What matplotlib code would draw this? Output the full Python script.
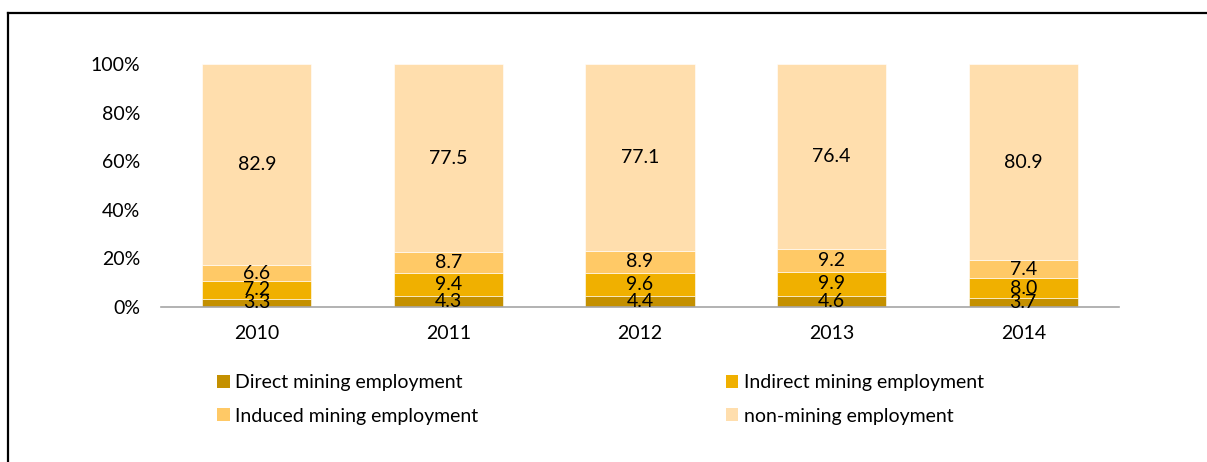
import matplotlib
matplotlib.use("Agg")
import matplotlib.pyplot as plt
import numpy as np
from matplotlib.lines import Line2D
from matplotlib.patches import Patch

plt.rcParams['font.family'] = ['Lato', 'DejaVu Sans']

years = ['2010', '2011', '2012', '2013', '2014']
direct = [3.3, 4.3, 4.4, 4.6, 3.7]
indirect = [7.2, 9.4, 9.6, 9.9, 8.0]
induced = [6.6, 8.7, 8.9, 9.2, 7.4]
non_mining = [82.9, 77.5, 77.1, 76.4, 80.9]

series = [
    ('Direct mining employment', direct, '#C49000'),
    ('Indirect mining employment', indirect, '#F0B000'),
    ('Induced mining employment', induced, '#FFC966'),
    ('non-mining employment', non_mining, '#FFDEAD'),
]

fig = plt.figure(figsize=(12.07, 4.62), dpi=100)
ax = fig.add_axes([0.1334, 0.3361, 0.7937, 0.5253])

x = np.arange(len(years))
totals = np.sum([np.array(v) for _, v, _ in series], axis=0)
bottom = np.zeros(len(years))
fs = 14
for name, vals, col in series:
    share = np.array(vals) / totals * 100
    ax.bar(x, share, 0.57, bottom=bottom, color=col,
           edgecolor='white', linewidth=0.4, label=name)
    for xi, b, h, v in zip(x, bottom, share, vals):
        ax.text(xi, b + h / 2, f'{v:.1f}', ha='center', va='center',
                fontsize=fs, color='black')
    bottom += share

ax.set_xlim(-0.5, 4.5)
ax.set_ylim(0, 100)
ax.set_xticks(x)
ax.set_xticklabels(years)
ax.set_yticks(np.arange(0, 101, 20))
ax.set_yticklabels([f'{v}%' for v in range(0, 101, 20)])
ax.tick_params(axis='both', length=0, labelsize=fs)
ax.tick_params(axis='y', pad=15)
ax.tick_params(axis='x', pad=13)
for s in ['top', 'right', 'left']:
    ax.spines[s].set_visible(False)
ax.spines['bottom'].set_color('#A6A6A6')
ax.spines['bottom'].set_linewidth(1.2)

order = ['Direct mining employment', 'Induced mining employment',
         'Indirect mining employment', 'non-mining employment']
colors = {n: c for n, _, c in series}
leg_handles = [Patch(facecolor=colors[n], edgecolor='none') for n in order]
fig.legend(leg_handles, order, ncol=2, loc='upper left',
           bbox_to_anchor=(217 / 1207, 1 - 374 / 462), frameon=False,
           fontsize=fs, handlelength=0.65, handleheight=0.65,
           handletextpad=0.3, columnspacing=12.7, labelspacing=0.85,
           borderpad=0, borderaxespad=0)

# frame lines along the top and left edges
fig.add_artist(Line2D([8 / 1207, 1.0], [1 - 12.5 / 462, 1 - 12.5 / 462],
                      transform=fig.transFigure, color='black', linewidth=1.6))
fig.add_artist(Line2D([8 / 1207, 8 / 1207], [0, 1 - 12.5 / 462],
                      transform=fig.transFigure, color='black', linewidth=1.6))

fig.savefig('out.png', dpi=100)
